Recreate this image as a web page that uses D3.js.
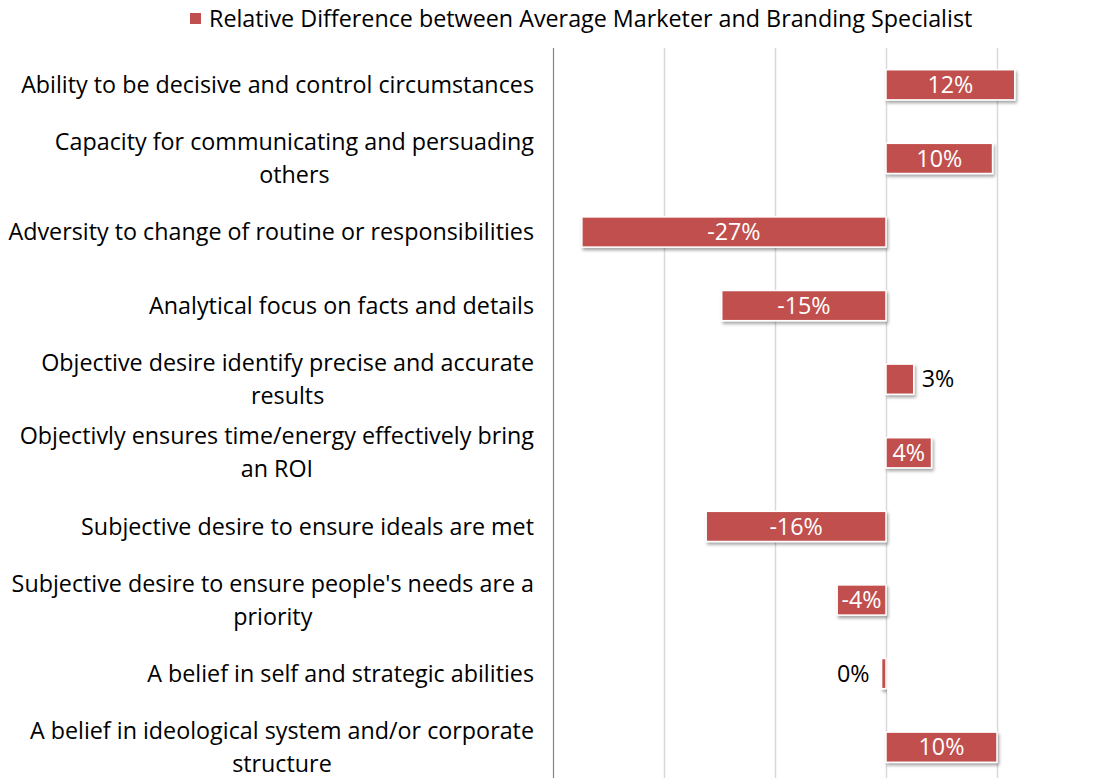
<html>
<head>
<script src="https://d3js.org/d3.v7.min.js"></script>
<style>
  body { margin: 0; background: #fff; }
  text { font-family: "Open Sans", sans-serif; fill: #000; }
</style>
</head>
<body>
<script>
// categories, top to bottom (line breaks as in the picture)
var categories = [
  "Ability to be decisive and control circumstances",
  "Capacity for communicating and persuading\nothers",
  "Adversity to change of routine or responsibilities",
  "Analytical focus on facts and details",
  "Objective desire identify precise and accurate\nresults",
  "Objectivly ensures time/energy effectively bring\nan ROI",
  "Subjective desire to ensure ideals are met",
  "Subjective desire to ensure people's needs are a\npriority",
  "A belief in self and strategic abilities",
  "A belief in ideological system and/or corporate\nstructure"
];
// relative difference in percent
var values = [11.6, 9.6, -27.4, -14.8, 2.5, 4.1, -16.2, -4.4, -0.4, 10.0];
var seriesName = "Relative Difference between Average Marketer and Branding Specialist";
var gridTicks = [-30, -20, -10, 0, 10, 20];

var width = 1097, height = 778;
var barColor = "#C0504D";
var fontSize = 23.3;

var svg = d3.select("body").append("svg")
    .attr("width", width)
    .attr("height", height);

var defs = svg.append("defs");
var f = defs.append("filter").attr("id", "shadow")
    .attr("x", "-20%").attr("y", "-30%").attr("width", "140%").attr("height", "170%");
f.append("feDropShadow")
    .attr("dx", 1.5).attr("dy", 2.5).attr("stdDeviation", 1.8)
    .attr("flood-color", "#000").attr("flood-opacity", 0.35);

var xScale = d3.scaleLinear()
    .domain([-30, 20])
    .range([553, 1108]);

var yScale = d3.scaleBand()
    .domain(d3.range(categories.length))
    .range([48, 784])
    .paddingInner(0.59)
    .paddingOuter(0.295);

// gridlines
svg.append("g")
    .selectAll("line")
    .data(gridTicks.slice(1))
    .enter()
    .append("line")
    .attr("x1", function(d) { return Math.round(xScale(d)) + 0.5; })
    .attr("x2", function(d) { return Math.round(xScale(d)) + 0.5; })
    .attr("y1", 48)
    .attr("y2", height)
    .attr("stroke", "#d9d9d9")
    .attr("stroke-width", 1.5);

// category axis line
svg.append("line")
    .attr("x1", xScale(-30) + 0.5)
    .attr("x2", xScale(-30) + 0.5)
    .attr("y1", 48)
    .attr("y2", height)
    .attr("stroke", "#868686")
    .attr("stroke-width", 1.2);

// category labels: single lines right aligned, wrapped ones centred on the block
var labels = svg.append("g");
categories.forEach(function(c, i) {
  var lines = c.split("\n");
  var cy = yScale(i) + yScale.bandwidth() / 2;
  var lh = 33;
  var t = labels.append("text")
      .attr("font-size", fontSize);
  var spans = lines.map(function(l, j) {
    return t.append("tspan")
      .attr("y", cy + (j - (lines.length - 1) / 2) * lh)
      .attr("dy", "0.35em")
      .text(l);
  });
  if (lines.length === 1) {
    t.attr("text-anchor", "end");
    spans[0].attr("x", 534);
  } else {
    var maxW = d3.max(spans, function(s) { return s.node().getComputedTextLength(); });
    t.attr("text-anchor", "middle");
    spans.forEach(function(s) { s.attr("x", 534 - maxW / 2); });
  }
});

// bars
svg.append("g")
    .selectAll("rect")
    .data(values)
    .enter()
    .append("rect")
    .attr("x", function(d) { return xScale(Math.min(0, d)); })
    .attr("y", function(d, i) { return yScale(i); })
    .attr("width", function(d) { return Math.abs(xScale(d) - xScale(0)); })
    .attr("height", yScale.bandwidth())
    .attr("fill", barColor)
    .attr("stroke", "#fff")
    .attr("stroke-width", 1.5)
    .attr("filter", "url(#shadow)");

// value labels
var fmt = function(d) { return Math.round(d) + "%"; };
var small = function(d) { return Math.abs(xScale(d) - xScale(0)) < 35; };
svg.append("g")
    .selectAll("text")
    .data(values)
    .enter()
    .append("text")
    .attr("font-size", fontSize)
    .attr("dy", "0.35em")
    .attr("y", function(d, i) { return yScale(i) + yScale.bandwidth() / 2; })
    .attr("x", function(d) {
      if (small(d)) return d >= 0 ? xScale(d) + 8 : xScale(d) - 12;
      return (xScale(d) + xScale(0)) / 2;
    })
    .attr("text-anchor", function(d) {
      if (small(d)) return d >= 0 ? "start" : "end";
      return "middle";
    })
    .style("fill", function(d) { return small(d) ? "#000" : "#fff"; })
    .text(fmt);

// legend
var legend = svg.append("g");
legend.append("rect")
    .attr("x", 190)
    .attr("y", 13)
    .attr("width", 11)
    .attr("height", 11)
    .attr("fill", barColor);
legend.append("text")
    .attr("x", 209)
    .attr("y", 19)
    .attr("dy", "0.35em")
    .attr("font-size", fontSize)
    .text(seriesName);
</script>
</body>
</html>
